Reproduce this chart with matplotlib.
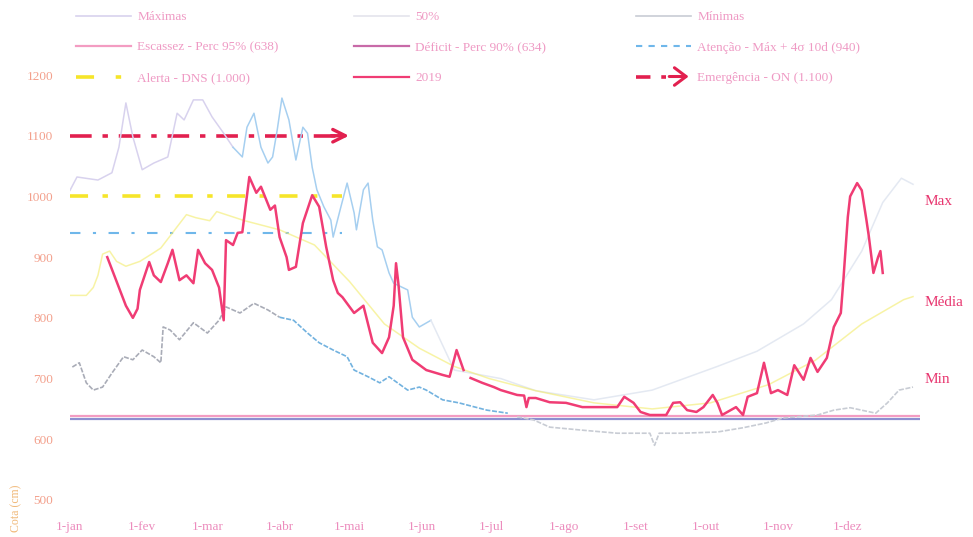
import numpy as np
import matplotlib
matplotlib.use("Agg")
import matplotlib.pyplot as plt
from matplotlib.lines import Line2D
from matplotlib.patches import FancyArrowPatch
from matplotlib.legend_handler import HandlerBase

plt.rcParams['font.family'] = ['Liberation Serif', 'DejaVu Serif']

# ---------------- data ----------------
month_days = [0, 31, 59, 90, 120, 151, 181, 212, 243, 273, 304, 334]
month_labels = ['1-jan', '1-fev', '1-mar', '1-abr', '1-mai', '1-jun',
                '1-jul', '1-ago', '1-set', '1-out', '1-nov', '1-dez']
y_ticks = [500, 600, 700, 800, 900, 1000, 1100, 1200]

days_2019 = [16, 20, 24, 27, 29, 30, 34, 36, 39, 42, 44, 47, 50, 53, 55, 58, 61, 64, 66, 67,
             70, 72, 74, 77, 80, 82, 86, 88, 90, 93, 94, 97, 100, 104, 107, 110, 113, 115, 117,
             122, 126, 130, 134, 137, 139, 140, 141, 143, 147, 153, 160, 163, 166, 169, 170,
             172, 177, 182, 185, 192, 195, 196, 197, 200, 206, 213, 220, 228, 235, 238, 242,
             245, 249, 256, 259, 262, 265, 269, 272, 276, 278, 280, 286, 289, 291, 295, 298,
             301, 304, 308, 311, 315, 318, 321, 325, 328, 331, 332, 334, 335, 338, 340, 342,
             343, 345, 347, 348, 349]
vals_2019 = [900, 860, 820, 800, 815, 846, 892, 870, 859, 890, 912, 862, 870, 857, 912, 890,
             879, 850, 796, 928, 920, 940, 941, 1032, 1006, 1016, 978, 985, 933, 900, 879, 884,
             956, 1002, 983, 917, 862, 841, 834, 808, 820, 759, 742, 768, 820, 890, 857, 768,
             731, 714, 706, 703, 747, 714, np.nan, 701, 693, 686, 681, 673, 672, 653, 668, 668,
             661, 660, 653, 653, 653, 670, 660, 645, 640, 640, 660, 661, 648, 645, 653, 673,
             660, 640, 653, 640, 670, 676, 726, 676, 681, 673, 722, 698, 734, 711, 734, 785,
             808, 857, 966, 1000, 1022, 1010, 961, 935, 874, 900, 910, 874]

days_max = [0, 3, 12, 18, 21, 24, 27, 31, 36, 42, 46, 49, 53, 57, 61, 66, 70, 74, 76, 79, 82,
            85, 87, 89, 91, 94, 97, 100, 102, 104, 106, 109, 112, 113, 116, 119, 122, 123, 126,
            128, 130, 132, 134, 137, 139, 145, 147, 150, 155, 165, 185, 200, 225, 250, 278,
            295, 315, 327, 340, 349, 357, 362]
vals_max = [1010, 1032, 1027, 1039, 1081, 1154, 1098, 1044, 1055, 1065, 1137, 1126, 1159,
            1159, 1131, 1104, 1081, 1065, 1114, 1137, 1081, 1055, 1065, 1110, 1162, 1126, 1060,
            1114, 1104, 1048, 1011, 983, 961, 933, 978, 1022, 973, 945, 1011, 1022, 961, 917,
            912, 874, 857, 846, 801, 785, 796, 714, 700, 680, 665, 681, 720, 745, 790, 830,
            910, 990, 1030, 1020]

days_media = [0, 7, 10, 12, 14, 17, 20, 24, 30, 35, 39, 42, 47, 50, 54, 60, 63, 75, 90, 105,
              120, 135, 150, 165, 180, 200, 225, 250, 275, 300, 320, 340, 358, 362]
vals_media = [837, 837, 850, 870, 905, 910, 893, 885, 893, 905, 915, 930, 955, 970, 965, 960,
              975, 960, 945, 920, 860, 790, 750, 720, 700, 680, 660, 650, 660, 690, 730, 790,
              830, 835]

days_min = [1, 4, 7, 10, 14, 18, 23, 27, 31, 36, 39, 40, 43, 47, 53, 59, 64, 67, 73, 79, 85,
            90, 96, 102, 107, 113, 119, 122, 128, 133, 137, 145, 150, 153, 160, 167, 179, 188,
            192, 199, 206, 220, 235, 249, 251, 253, 263, 278, 289, 299, 306, 321, 328, 335,
            346, 351, 356, 362]
vals_min = [719, 726, 693, 681, 686, 709, 736, 731, 747, 736, 726, 785, 780, 764, 792, 775,
            796, 818, 808, 824, 813, 801, 796, 775, 759, 747, 736, 714, 703, 693, 703, 681, 686,
            681, 665, 660, 648, 643, 637, 632, 620, 615, 610, 610, 590, 610, 610, 612, 619, 627,
            635, 640, 648, 652, 643, 660, 681, 686]

level_escassez = 638
level_deficit = 634
level_atencao = 940
level_alerta = 1000
level_emergencia = 1100
threshold_end_day = 117

labels_legend = {
    'max': 'Máximas', 'media': '50%', 'min': 'Mínimas',
    'escassez': 'Escassez - Perc 95% (638)', 'deficit': 'Déficit - Perc 90% (634)',
    'atencao': 'Atenção - Máx + 4σ 10d (940)',
    'alerta': 'Alerta - DNS (1.000)', 'y2019': '2019', 'emerg': 'Emergência - ON (1.100)',
}

# ---------------- styles ----------------
c_2019 = '#f03c74'
c_max1 = '#d8d2ee'
c_max2 = '#a6cff0'
c_max3 = '#e4e9f2'
c_media = '#f3ec6a'
c_min1 = '#a9acb7'
c_min2 = '#72b2df'
c_min3 = '#c8ccd4'
c_esc = '#f39cc2'
c_def = '#8c8fd0'
c_aten = '#6fb7ea'
c_alert = '#f6e52a'
c_emerg = '#e2204f'
c_lab = '#e8356f'

fig = plt.figure(figsize=(9.73, 5.37), dpi=100)
ax = fig.add_axes([70 / 973, 1 - 500 / 537, 850 / 973, 425 / 537])
ax.set_xlim(0, 365)
ax.set_ylim(500, 1200)


def seg_plot(days, vals, bounds, colors, **kw):
    d = np.asarray(days, float)
    v = np.asarray(vals, float)
    for (a, b), c in zip(bounds, colors):
        m = (d >= a) & (d <= b)
        ax.plot(d[m], v[m], color=c, **kw)


# reference levels
ax.plot([0, 365], [level_deficit] * 2, color=c_def, lw=1.6, zorder=2)
ax.plot([0, 365], [level_escassez] * 2, color=c_esc, lw=1.6, zorder=2)
ax.plot([0, threshold_end_day], [level_atencao] * 2, color=c_aten, lw=1.5,
        ls=(0, (5, 6, 1.5, 6)), zorder=3)
ax.plot([0, threshold_end_day], [level_alerta] * 2, color=c_alert, lw=2.6,
        ls=(0, (5, 4, 1.5, 4)), zorder=3)
ax.plot([0, threshold_end_day - 2], [level_emergencia] * 2, color=c_emerg, lw=2.6,
        ls=(0, (6, 3, 1.5, 3)), zorder=3)
ax.annotate('', xy=(threshold_end_day + 4, level_emergencia),
            xytext=(threshold_end_day - 6, level_emergencia),
            arrowprops=dict(arrowstyle='->,head_length=0.9,head_width=0.45',
                            color=c_emerg, lw=2.4), zorder=3)

# envelope lines
seg_plot(days_max, vals_max, [(0, 70), (70, 155), (155, 365)], [c_max1, c_max2, c_max3],
         lw=1.1, zorder=4)
ax.plot(days_media, vals_media, color=c_media, lw=1.1, alpha=0.6, zorder=4)
seg_plot(days_min, vals_min, [(0, 90), (90, 190), (190, 365)], [c_min1, c_min2, c_min3],
         lw=1.2, ls=(0, (3, 1)), zorder=4)

# 2019
ax.plot(days_2019, vals_2019, color=c_2019, lw=1.8, zorder=5)

# right-hand labels
ax.text(367, 991, 'Max', color=c_lab, fontsize=11, va='center', ha='left', clip_on=False)
ax.text(367, 826, 'Média', color=c_lab, fontsize=11, va='center', ha='left', clip_on=False)
ax.text(367, 698, 'Min', color=c_lab, fontsize=11, va='center', ha='left', clip_on=False)

# axes styling
for s in ax.spines.values():
    s.set_visible(False)
ax.set_yticks(y_ticks)
ax.set_yticklabels([str(v) for v in y_ticks])
ax.set_xticks(month_days)
ax.set_xticklabels(month_labels)
ax.tick_params(axis='y', length=0, pad=12, labelcolor='#f3a08c', labelsize=9.5)
ax.tick_params(axis='x', length=0, pad=15, labelcolor='#ec8cbd', labelsize=9.5)

fig.text(10 / 973, 1 - 532 / 537, 'Cota (cm)', rotation=90, color='#f0b878', fontsize=8.5,
         va='bottom', ha='left')


# ---------------- legend ----------------
class HandlerArrowLine(HandlerBase):
    def create_artists(self, legend, orig_handle, xdescent, ydescent, width, height,
                       fontsize, trans):
        y = height / 2 - ydescent
        x0 = -xdescent
        ln = Line2D([x0, x0 + width * 0.55], [y, y], color=c_emerg, lw=2.6,
                    ls=(0, (4, 3, 1.5, 3)), transform=trans)
        ar = FancyArrowPatch((x0 + width * 0.55, y), (x0 + width, y),
                             arrowstyle='->,head_length=0.6,head_width=0.45',
                             mutation_scale=14, color=c_emerg, lw=2.2, transform=trans)
        return [ln, ar]


h_max = Line2D([], [], color=c_max1, lw=1.2)
h_media = Line2D([], [], color='#e4e4ec', lw=1.2)
h_min = Line2D([], [], color=c_min3, lw=1.2)
h_esc = Line2D([], [], color=c_esc, lw=1.6)
h_def = Line2D([], [], color='#c86aa8', lw=1.6)
h_aten = Line2D([], [], color=c_aten, lw=1.5, ls=(0, (3, 3)))
h_alert = Line2D([], [], color=c_alert, lw=2.6, ls=(0, (5, 6, 1.5, 6)))
h_2019 = Line2D([], [], color=c_2019, lw=1.6)
h_emerg = Line2D([], [], color=c_emerg, lw=2.6)

cols = [
    (76, [h_max, h_esc, h_alert], [labels_legend['max'], labels_legend['escassez'],
                                   labels_legend['alerta']]),
    (354, [h_media, h_def, h_2019], [labels_legend['media'], labels_legend['deficit'],
                                     labels_legend['y2019']]),
    (636, [h_min, h_aten, h_emerg], [labels_legend['min'], labels_legend['atencao'],
                                     labels_legend['emerg']]),
]
for x, hs, ls_ in cols:
    fig.legend(hs, ls_, loc='upper left', bbox_to_anchor=(x / 973, 1 - 11 / 537),
               frameon=False, fontsize=9.5, labelcolor='#ef9ac4', handlelength=4.2,
               handletextpad=0.45, labelspacing=1.38, borderpad=0, borderaxespad=0,
               handler_map={h_emerg: HandlerArrowLine()})

fig.savefig('out.png', dpi=100, facecolor='white')
